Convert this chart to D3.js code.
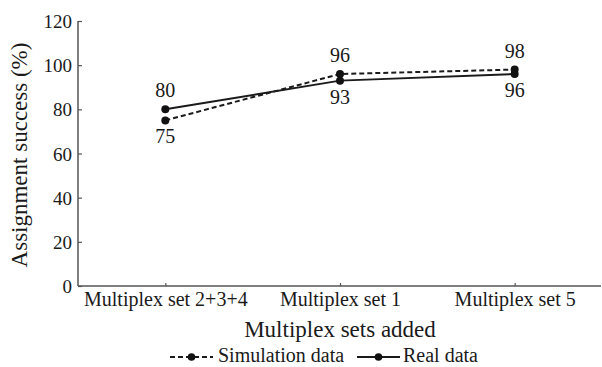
<!DOCTYPE html>
<html>
<head>
<meta charset="utf-8">
<script src="https://cdn.jsdelivr.net/npm/d3@7"></script>
<style>
  body { margin: 0; background: #fff; }
</style>
</head>
<body>
<svg id="chart" width="602" height="367"></svg>
<script>
// chart data
var categories = ["Multiplex set 2+3+4", "Multiplex set 1", "Multiplex set 5"];
var simValues = [75, 96, 98];
var realValues = [80, 93, 96];
var yTicks = [0, 20, 40, 60, 80, 100, 120];

var serif = "'Liberation Serif', 'Times New Roman', 'DejaVu Serif', serif";

var svg = d3.select("#chart");

var x = d3.scalePoint().domain(categories).range([78, 602]).padding(0.5);
var y = d3.scaleLinear().domain([0, 120]).range([286, 21]);

// axes
var yAxis = d3.axisLeft(y).tickValues(yTicks).tickSize(-4).tickPadding(6);
var xAxis = d3.axisBottom(x).tickSize(-3);

var gy = svg.append("g").attr("transform", "translate(78,0)").call(yAxis);
var gx = svg.append("g").attr("transform", "translate(0,286)").call(xAxis);

[gx, gy].forEach(function(g) {
  g.attr("font-family", serif);
  g.select(".domain").attr("stroke", "#555").attr("stroke-width", 1.5);
  g.selectAll(".tick line").attr("stroke", "#555").attr("stroke-width", 1.2);
  g.selectAll(".tick text")
    .style("font-family", serif)
    .style("font-size", "19px").attr("fill", "#1a1a1a");
});
gy.select(".domain").attr("d", "M0,21V286");
gx.select(".domain").attr("d", "M78,0H601");
gy.selectAll(".tick text").attr("dy", "0.35em");
gx.selectAll(".tick text").style("font-size", "20px").attr("y", 20).attr("dy", 0);

// axis titles
svg.append("text")
  .attr("x", 340).attr("y", 337)
  .attr("text-anchor", "middle")
  .style("font-family", serif)
  .style("font-size", "23px")
  .attr("fill", "#1a1a1a")
  .text("Multiplex sets added");

svg.append("text")
  .attr("transform", "translate(27,155) rotate(-90)")
  .attr("text-anchor", "middle")
  .style("font-family", serif)
  .style("font-size", "23px")
  .attr("fill", "#1a1a1a")
  .text("Assignment success (%)");

// lines
var line = d3.line()
  .x(function(d, i) { return x(categories[i]); })
  .y(function(d) { return y(d); });

svg.append("path").datum(simValues)
  .attr("d", line).attr("fill", "none")
  .attr("stroke", "#1a1a1a").attr("stroke-width", 2)
  .attr("stroke-dasharray", "5,3");

svg.append("path").datum(realValues)
  .attr("d", line).attr("fill", "none")
  .attr("stroke", "#1a1a1a").attr("stroke-width", 2);

[simValues, realValues].forEach(function(vals) {
  svg.append("g").selectAll("circle")
    .data(vals).enter().append("circle")
    .attr("cx", function(d, i) { return x(categories[i]); })
    .attr("cy", function(d) { return y(d); })
    .attr("r", 4)
    .attr("fill", "#111");
});

// value labels: higher value above, lower below
categories.forEach(function(c, i) {
  var hi = Math.max(simValues[i], realValues[i]);
  var lo = Math.min(simValues[i], realValues[i]);
  svg.append("text")
    .attr("x", x(c)).attr("y", y(hi) - 12)
    .attr("text-anchor", "middle")
    .style("font-family", serif)
    .style("font-size", "20px")
    .attr("fill", "#1a1a1a")
    .text(hi);
  svg.append("text")
    .attr("x", x(c)).attr("y", y(lo) + 23)
    .attr("text-anchor", "middle")
    .style("font-family", serif)
    .style("font-size", "20px")
    .attr("fill", "#1a1a1a")
    .text(lo);
});

// legend
var legend = svg.append("g").attr("transform", "translate(0,357)");
legend.append("line")
  .attr("x1", 170).attr("x2", 213).attr("y1", 0).attr("y2", 0)
  .attr("stroke", "#1a1a1a").attr("stroke-width", 2)
  .attr("stroke-dasharray", "5,3");
legend.append("circle").attr("cx", 191.5).attr("cy", 0).attr("r", 3.8).attr("fill", "#111");
legend.append("text").attr("x", 218).attr("y", 5)
  .style("font-family", serif).style("font-size", "20px").attr("fill", "#1a1a1a")
  .text("Simulation data");

legend.append("line")
  .attr("x1", 357).attr("x2", 400).attr("y1", 0).attr("y2", 0)
  .attr("stroke", "#1a1a1a").attr("stroke-width", 2);
legend.append("circle").attr("cx", 378.5).attr("cy", 0).attr("r", 3.8).attr("fill", "#111");
legend.append("text").attr("x", 403).attr("y", 5)
  .style("font-family", serif).style("font-size", "20px").attr("fill", "#1a1a1a")
  .text("Real data");
</script>
</body>
</html>
